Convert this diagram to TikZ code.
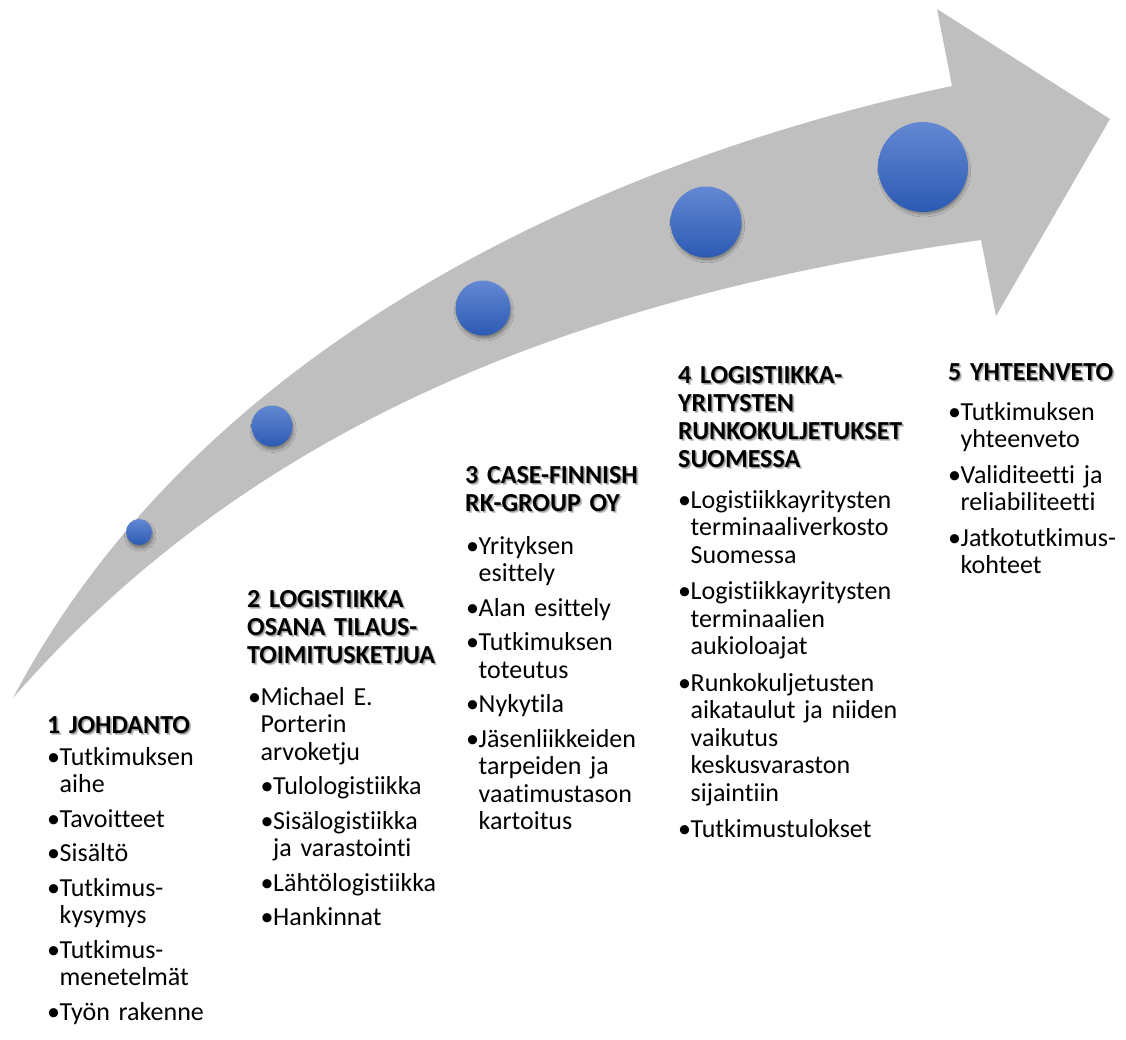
\documentclass[tikz,border=0pt]{standalone}
\usepackage{fontspec}
\setmainfont{Carlito}[Ligatures=NoCommon]
\usetikzlibrary{shadows.blur}
\definecolor{arrowgray}{HTML}{BFBFBF}
\definecolor{ctop}{HTML}{6388D3}
\definecolor{cbot}{HTML}{2C5AB3}
\newcommand\bu{\makebox[12.5pt][l]{•}}
\newcommand\ct{\hspace*{12.5pt}}
\newcommand\hdg[3]{%
  \node[headshadow] at ([xshift=1pt,yshift=-1pt]#2) {#3};
  \node[headshadow] at ([xshift=2pt,yshift=-2.2pt]#2) {#3};
  \node[headtext] (#1) at (#2) {#3};}
\tikzset{
  headtext/.style={anchor=base west, inner sep=0pt, text width=320pt, align=left,
    font=\bfseries\fontsize{26}{28}\selectfont},
  headshadow/.style={headtext, text=black, text opacity=0.22},
  itemlist/.style={anchor=base west, inner sep=0pt, text width=320pt, align=left,
    font=\fontsize{26}{27.5}\selectfont},
  dot/.style={circle, inner sep=0pt, draw=none, top color=ctop, bottom color=cbot,
    blur shadow={shadow xshift=1.2pt, shadow yshift=-3.5pt, shadow scale=0.96,
      shadow blur radius=3.5pt, shadow blur steps=10, shadow opacity=45}},
}
\begin{document}
\begin{tikzpicture}[x=1pt,y=-1pt]
\useasboundingbox (0,0) rectangle (1126,1039);
% curved arrow
\coordinate (tail) at (13,698);
\coordinate (upj) at (952,86);
\coordinate (htop) at (937,9);
\coordinate (htip) at (1110,119);
\coordinate (hbot) at (996,316);
\coordinate (loj) at (981,240);
\fill[arrowgray] (tail) .. controls (213,318) and (652,149) .. (upj)
  -- (htop) -- (htip) -- (hbot) -- (loj)
  .. controls (631,289) and (273,399) .. (tail) -- cycle;
% circles
\node[dot, minimum size=26pt] (c1) at (139,532) {};
\node[dot, minimum size=41pt] (c2) at (272,426) {};
\node[dot, minimum size=55pt] (c3) at (483,308) {};
\node[dot, minimum size=71pt] (c4) at (706,222) {};
\node[dot, minimum size=90pt] (c5) at (923,167) {};
% headings
\hdg{h1}{47,733}{1 JOHDANTO}
\hdg{h2}{247,607}{2 LOGISTIIKKA\\OSANA TILAUS-\\TOIMITUSKETJUA}
\hdg{h3}{465,483}{3 CASE-FINNISH\\RK-GROUP OY}
\hdg{h4}{678,383}{4 LOGISTIIKKA-\\YRITYSTEN\\RUNKOKULJETUKSET\\SUOMESSA}
\hdg{h5}{948,380}{5 YHTEENVETO}
% lists
\node[itemlist] (l1) at (47,765) {\bu Tutkimuksen\\ \ct aihe\\[7pt]
  \bu Tavoitteet\\[7pt] \bu Sisältö\\[7pt] \bu Tutkimus-\\ \ct kysymys\\[7pt]
  \bu Tutkimus-\\ \ct menetelmät\\[7pt] \bu Työn rakenne};
\node[itemlist] (l2) at (248,705) {\bu Michael E.\\ \ct Porterin\\ \ct arvoketju\\[7pt]
  \ct\bu Tulologistiikka\\[7pt] \ct\bu Sisälogistiikka\\ \ct\ct ja varastointi\\[7pt]
  \ct\bu Lähtölogistiikka\\[7pt] \ct\bu Hankinnat};
\node[itemlist] (l3) at (466,554) {\bu Yrityksen\\ \ct esittely\\[7pt]
  \bu Alan esittely\\[7pt] \bu Tutkimuksen\\ \ct toteutus\\[7pt] \bu Nykytila\\[7pt]
  \bu Jäsenliikkeiden\\ \ct tarpeiden ja\\ \ct vaatimustason\\ \ct kartoitus};
\node[itemlist] (l4) at (678,508) {\bu Logistiikkayritysten\\ \ct terminaaliverkosto\\ \ct Suomessa\\[9pt]
  \bu Logistiikkayritysten\\ \ct terminaalien\\ \ct aukioloajat\\[9pt]
  \bu Runkokuljetusten\\ \ct aikataulut ja niiden\\ \ct vaikutus\\ \ct keskusvaraston\\ \ct sijaintiin\\[9pt]
  \bu Tutkimustulokset};
\node[itemlist] (l5) at (948,420) {\bu Tutkimuksen\\ \ct yhteenveto\\[8pt]
  \bu Validiteetti ja\\ \ct reliabiliteetti\\[8pt] \bu Jatkotutkimus-\\ \ct kohteet};
\end{tikzpicture}
\end{document}
